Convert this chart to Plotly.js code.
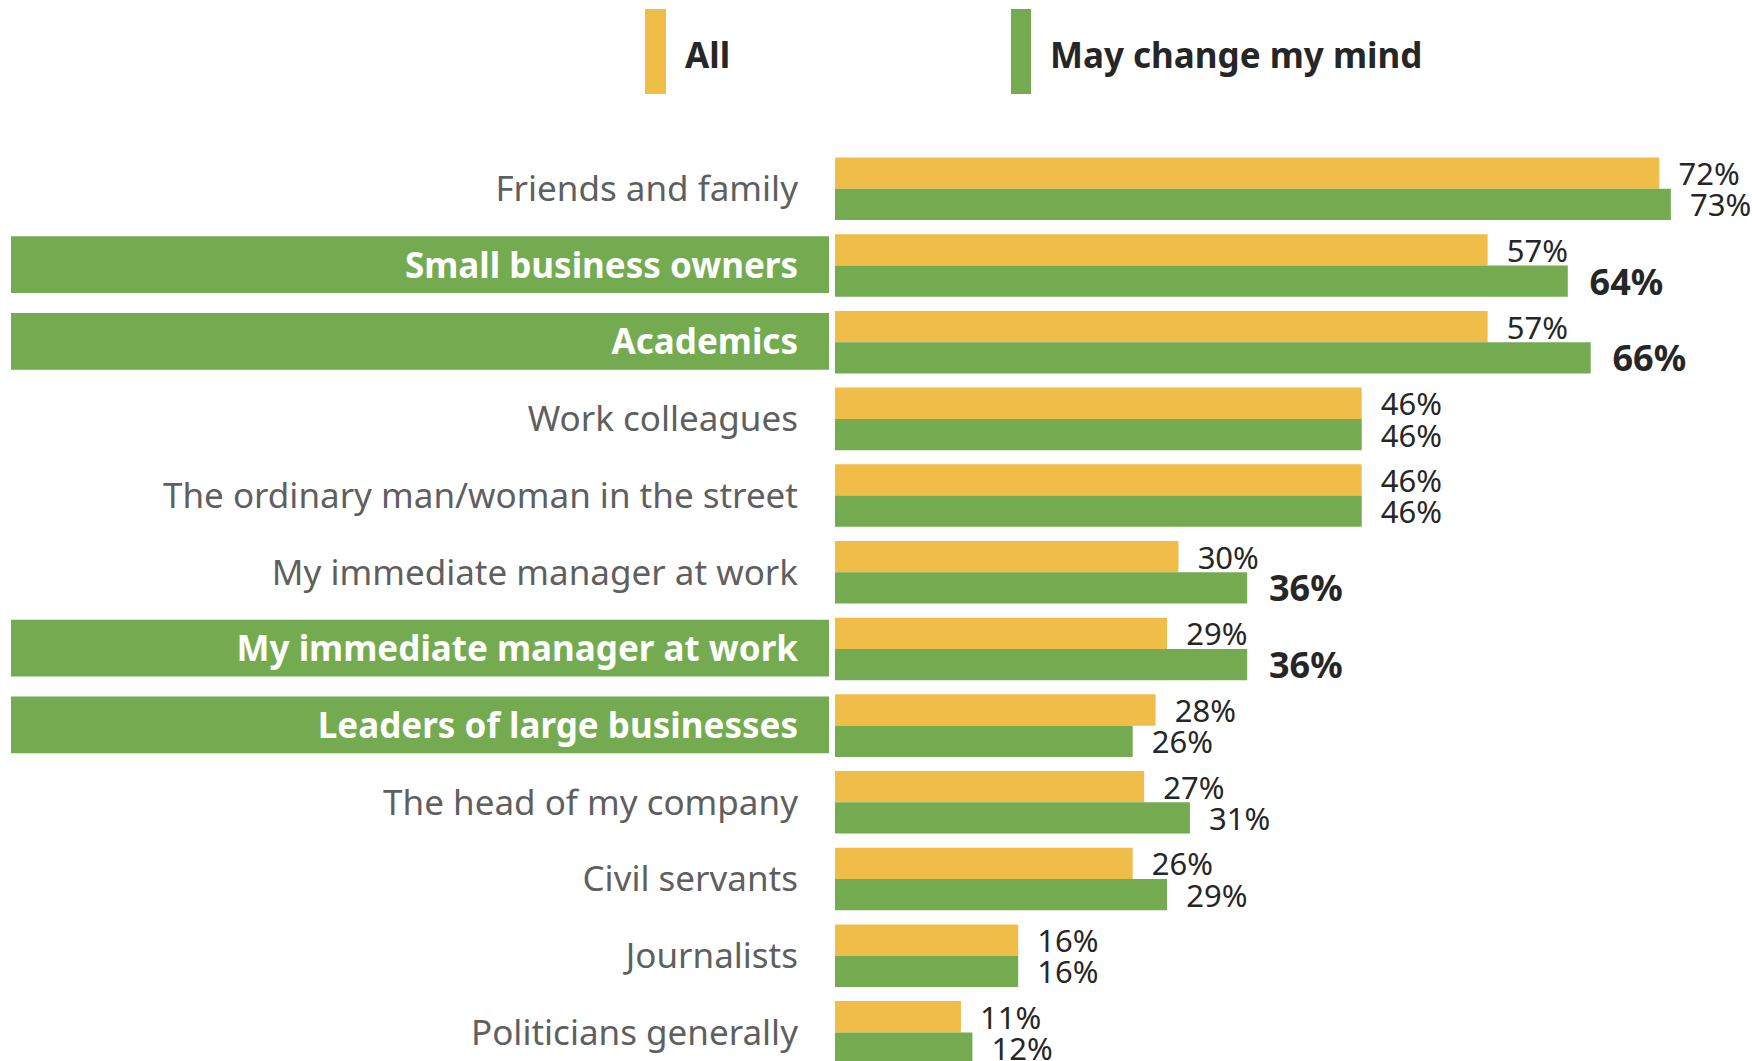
<!DOCTYPE html>
<html>
<head>
<meta charset="utf-8">
<script src="https://cdn.plot.ly/plotly-3.0.1.min.js"></script>
<style>
  html, body { margin: 0; padding: 0; background: #fff; }
  #chart { width: 1752px; height: 1061px; }
</style>
</head>
<body>
<div id="chart"></div>
<script>
// ---- data ----
const categories = [
  "Friends and family",
  "Small business owners",
  "Academics",
  "Work colleagues",
  "The ordinary man/woman in the street",
  "My immediate manager at work",
  "My immediate manager at work",
  "Leaders of large businesses",
  "The head of my company",
  "Civil servants",
  "Journalists",
  "Politicians generally"
];
const allValues  = [72, 57, 57, 46, 46, 30, 29, 28, 27, 26, 16, 11];
const mindValues = [73, 64, 66, 46, 46, 36, 36, 26, 31, 29, 16, 12];
const highlighted = [false, true, true, false, false, false, true, true, false, false, false, false];
const boldMind    = [false, true, true, false, false, true, true, false, false, false, false, false];
const seriesNames = ["All", "May change my mind"];

// ---- style ----
const YELLOW = "#F0BE48";
const GREEN  = "#75AB50";
const LABEL_GREY = "#5f5f5f";
const DARK = "#262626";
const FONT = "Noto Sans, Open Sans, sans-serif";

const positions = categories.map((_, i) => i);
const pad = "\u00a0\u00a0";

const traceAll = {
  type: "bar",
  orientation: "h",
  name: seriesNames[0],
  y: positions,
  x: allValues,
  marker: { color: YELLOW, line: { width: 0 } },
  text: allValues.map(v => pad + v + "%"),
  textposition: "outside",
  constraintext: "none",
  cliponaxis: false,
  textfont: { family: FONT, size: 31, color: DARK },
  hoverinfo: "skip"
};
const traceMind = {
  type: "bar",
  orientation: "h",
  name: seriesNames[1],
  y: positions,
  x: mindValues,
  marker: { color: GREEN, line: { width: 0 } },
  text: mindValues.map((v, i) => boldMind[i] ? pad + "<b>" + v + "%</b>" : pad + v + "%"),
  textposition: "outside",
  constraintext: "none",
  cliponaxis: false,
  textfont: { family: FONT, size: mindValues.map((v, i) => boldMind[i] ? 36 : 31), color: DARK },
  hoverinfo: "skip"
};

const plotLeft = 835, plotWidth = 1752 - 835;
const px = x => (x - plotLeft) / plotWidth;     // pixel -> paper x
const py = y => 1 - y / 1061;                  // pixel -> paper y

const shapes = [];
highlighted.forEach((h, i) => {
  if (h) shapes.push({
    type: "rect", xref: "paper", yref: "y",
    x0: px(11), x1: px(829), y0: i - 0.38, y1: i + 0.36,
    fillcolor: GREEN, line: { width: 0 }, layer: "below"
  });
});
// legend swatches
shapes.push({ type: "rect", xref: "paper", yref: "paper", x0: px(645), x1: px(666), y0: py(94), y1: py(9), fillcolor: YELLOW, line: { width: 0 } });
shapes.push({ type: "rect", xref: "paper", yref: "paper", x0: px(1011), x1: px(1031), y0: py(94), y1: py(9), fillcolor: GREEN, line: { width: 0 } });

const annotations = [
  { xref: "paper", yref: "paper", x: px(683), y: py(54), xanchor: "left", yanchor: "middle", showarrow: false,
    text: "<b>" + seriesNames[0] + "</b>", font: { family: FONT, size: 35, color: DARK } },
  { xref: "paper", yref: "paper", x: px(1048), y: py(55), xanchor: "left", yanchor: "middle", showarrow: false,
    text: "<b>" + seriesNames[1] + "</b>", font: { family: FONT, size: 35, color: DARK } }
];

const ticktext = categories.map((c, i) =>
  highlighted[i] ? '<span style="color:#ffffff"><b>' + c + '</b></span>' : c);

const layout = {
  width: 1752,
  height: 1061,
  margin: { l: plotLeft, r: 0, t: 0, b: 0, pad: 0 },
  paper_bgcolor: "#fff",
  plot_bgcolor: "#fff",
  barmode: "group",
  bargap: 0.184,
  bargroupgap: 0,
  showlegend: false,
  xaxis: {
    range: [0, plotWidth / 11.45],
    visible: false,
    fixedrange: true
  },
  yaxis: {
    range: [11.373, -2.462],
    tickmode: "array",
    tickvals: positions,
    ticktext: ticktext,
    tickfont: { family: FONT, size: 35, color: LABEL_GREY },
    ticks: "",
    ticklabelstandoff: 36,
    showgrid: false,
    zeroline: false,
    showline: false,
    fixedrange: true
  },
  shapes: shapes,
  annotations: annotations
};

Plotly.newPlot("chart", [traceAll, traceMind], layout, { displayModeBar: false, staticPlot: true });
</script>
</body>
</html>
